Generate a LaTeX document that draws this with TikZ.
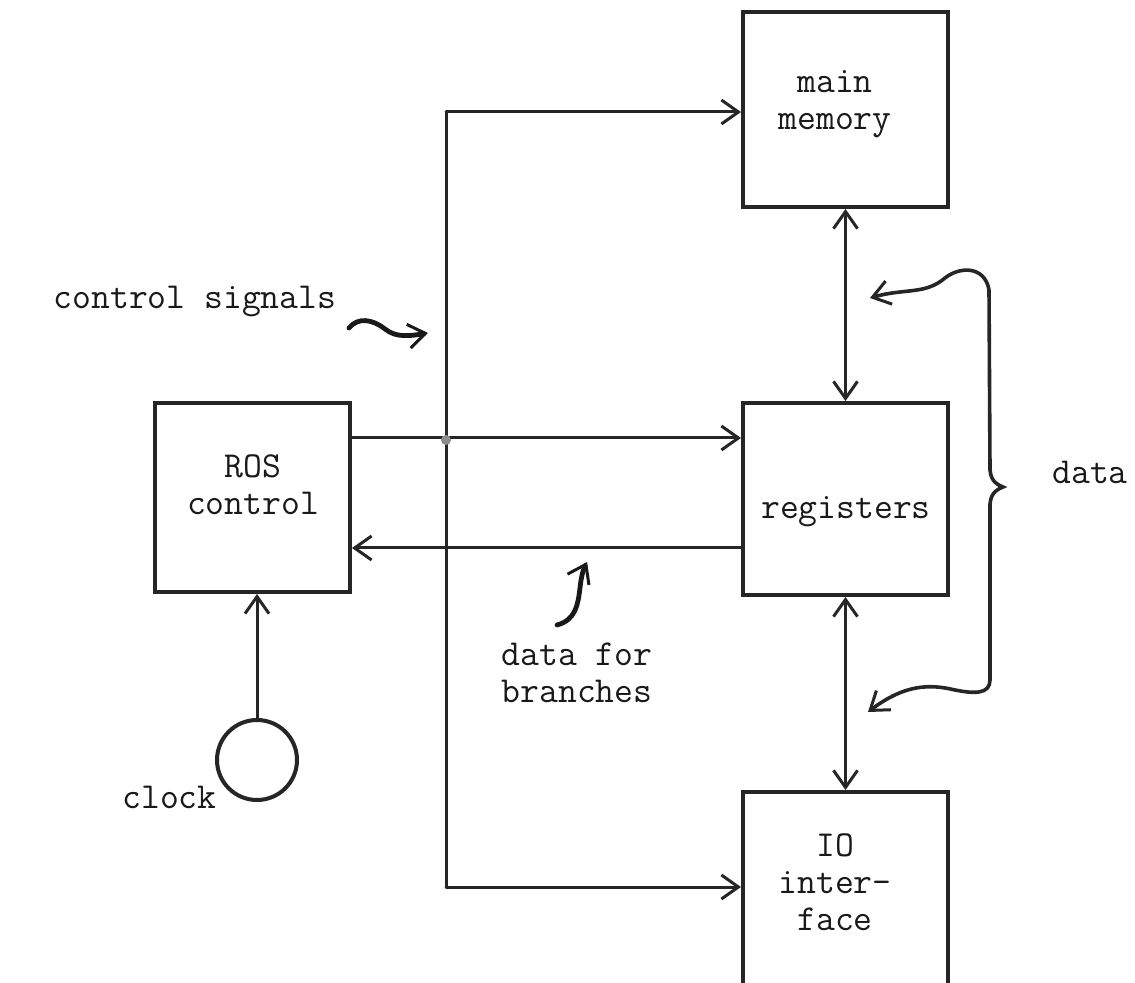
\documentclass[tikz,border=0pt]{standalone}
\usepackage{fontspec}
\usetikzlibrary{arrows.meta}
\tikzset{barb/.tip={Straight Barb[length=8.5pt,width=12pt,line width=1.5pt]}}
\begin{document}
\begin{tikzpicture}[x=0.5pt,y=-0.5pt,
  box/.style={draw=black!85, line width=2pt, inner sep=0pt, minimum width=102.5pt},
  lbl/.style={font=\ttfamily\fontsize{18.3}{18.5}\selectfont, align=center, inner sep=0pt, text=black!90},
  wire/.style={draw=black!85, line width=1.5pt, line cap=round},
  arr/.style={wire, -barb},
  darr/.style={wire, barb-barb},
  squig/.style={draw=black!90, line width=2.4pt, line cap=round, -barb}
]
\fill[white] (0,0) rectangle (1135,983);
\clip (0,0) rectangle (1135,983);

% boxes
\node[box, minimum height=97.5pt] (mem) at (845.5,109.5) {};
\node[box, minimum height=96pt] (reg) at (845.5,499) {};
\node[box, minimum height=104pt] (io) at (845.5,896) {};
\node[box, minimum width=97.5pt, minimum height=94.5pt] (ros) at (252.5,497.5) {};
\node[circle, draw=black!85, line width=2pt, minimum size=40pt, inner sep=0pt] (clk) at (257,760) {};

% box texts
\node[lbl] (memt) at (835,104) {main\\memory};
\node[lbl] (regt) at (846,512) {registers};
\node[lbl] (iot) at (835,882) {IO\\inter-\\face};
\node[lbl] (rost) at (253,485) {ROS\\control};

% free labels
\node[lbl] (cs) at (195,302) {control signals};
\node[lbl, anchor=west] (clkt) at (122,797) {clock};
\node[lbl, anchor=west] (datat) at (1052,472) {data};
\node[lbl] (dfb) at (577,673) {data for\\branches};

% control bus
\coordinate (bt) at (446,112);
\coordinate (bb) at (446,887);
\draw[wire] (bt) -- (bb);
\draw[arr] (bt) -- (mem.west |- bt);
\draw[arr] (bb) -- (io.west |- bb);

% ROS <-> registers
\draw[arr] ([yshift=-18.5pt]ros.north east) -- ([yshift=-18.5pt]reg.north west);
\draw[arr] ([yshift=-73.5pt]reg.north west) -- ([yshift=-73.5pt]ros.north east);
\fill[black!45] (446,440) circle (5);

% data paths
\draw[darr] (mem.south) -- (reg.north);
\draw[darr] (reg.south) -- (io.north);

% clock
\draw[arr] (clk.north) -- (clk.north |- ros.south);

% squiggle arrows
\coordinate (cs1) at (349,328);
\coordinate (cs2) at (428,333);
\draw[squig] (cs1) .. controls (358,317) and (372,319) .. (385,329)
  .. controls (396,338) and (410,336) .. (cs2);
\coordinate (db1) at (557,625);
\coordinate (db2) at (587,562);
\draw[squig] (db1) .. controls (576,620) and (578,604) .. (580,588)
  .. controls (581,578) and (583,570) .. (db2);

% brace with arrows
\coordinate (bta) at (870,298);
\coordinate (bba) at (868,712);
\draw[wire, line width=1.8pt, barb-barb] (bta)
  .. controls (905,288) and (925,295) .. (945,278)
  .. controls (960,266) and (985,266) .. (989,290)
  -- (990,470)
  .. controls (991,482) and (998,485) .. (1003,487)
  .. controls (998,489) and (991,492) .. (990,504)
  -- (990,680)
  .. controls (990,694) and (975,694) .. (955,690)
  .. controls (930,684) and (905,684) .. (bba);
\end{tikzpicture}
\end{document}
